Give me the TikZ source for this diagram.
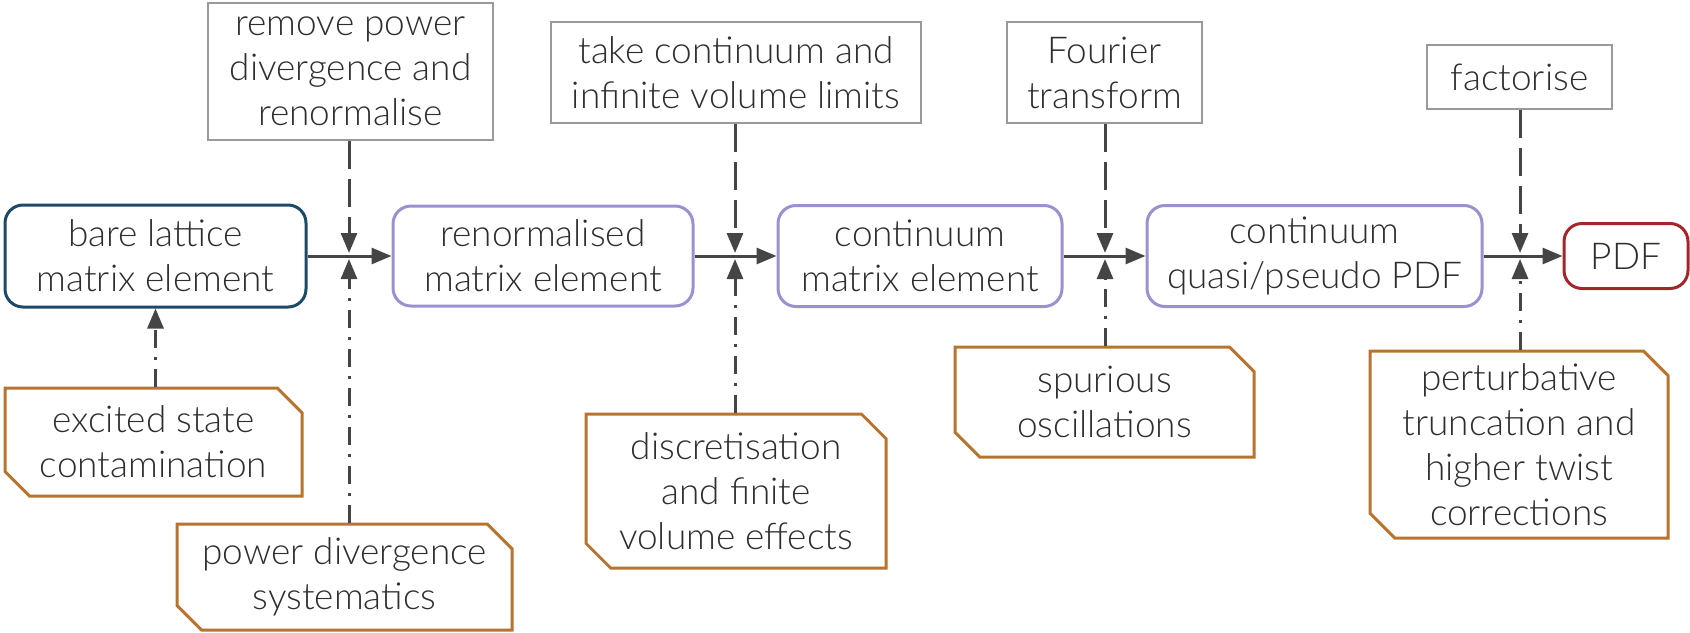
\documentclass[tikz,border=0pt]{standalone}
\usepackage{fontspec}
\setmainfont{Lato}[UprightFont=* Light]
\usetikzlibrary{arrows.meta,shapes.misc}

\definecolor{txt}{HTML}{2E2E2E}
\definecolor{linegray}{HTML}{454545}
\definecolor{actgray}{HTML}{9A9A9A}
\definecolor{bareblue}{HTML}{1E4A6A}
\definecolor{stagepurple}{HTML}{9D90CE}
\definecolor{pdfred}{HTML}{A3262B}
\definecolor{issorange}{HTML}{B8742F}

\tikzset{
  base/.style={inner sep=0pt, align=center, text=txt,
    font=\fontsize{18.5}{22.5}\selectfont, line width=1.5pt, fill=white},
  stage/.style={base, draw=stagepurple, rounded corners=9pt},
  action/.style={base, draw=actgray, line width=1.3pt},
  issue/.style={base, draw=issorange, chamfered rectangle,
    chamfered rectangle corners={north east,south west},
    chamfered rectangle xsep=9pt},
  flow/.style={line width=1.5pt, draw=linegray,
    -{Triangle[length=10pt,width=8pt]}},
  actflow/.style={flow, dash pattern=on 14pt off 5pt},
  sysflow/.style={flow, dash pattern=on 9pt off 4.5pt on 1.5pt off 4.5pt},
}

\begin{document}
\begin{tikzpicture}[x=0.5pt,y=-0.5pt]
\useasboundingbox (0,0) rectangle (1690,632);

% main chain of stages
\node[stage, draw=bareblue, minimum width=150.5pt, minimum height=51pt]
  (bare) at (155.5,256) {bare lattice\\matrix element};
\node[stage, minimum width=150pt, minimum height=50pt]
  (ren) at (543,256) {renormalised\\matrix element};
\node[stage, minimum width=142pt, minimum height=50.5pt]
  (cont) at (920,256) {continuum\\matrix element};
\node[stage, minimum width=167.5pt, minimum height=50.5pt]
  (quasi) at (1314.5,256) {continuum\\quasi/pseudo PDF};
\node[stage, draw=pdfred, minimum width=62pt, minimum height=32.5pt]
  (pdf) at (1626,256) {PDF};

% operations applied between stages
\node[action, minimum width=142.5pt, minimum height=68.5pt]
  (renorm) at (350.5,71.5) {remove power\\divergence and\\renormalise};
\node[action, minimum width=185pt, minimum height=50.5pt]
  (limits) at (736,72.5) {take continuum and\\infinite volume limits};
\node[action, minimum width=97.5pt, minimum height=50.5pt]
  (fourier) at (1104.5,72.5) {Fourier\\transform};
\node[action, minimum width=92.5pt, minimum height=32pt]
  (fact) at (1519.5,77) {factorise};

% systematic effects
\node[issue, minimum width=148.5pt, minimum height=54pt]
  (excited) at (153.5,442) {excited state\\contamination};
\node[issue, minimum width=167.5pt, minimum height=53pt]
  (powsys) at (344.5,577) {power divergence\\systematics};
\node[issue, minimum width=150pt, minimum height=77pt]
  (disc) at (736,491) {discretisation\\and finite\\volume effects};
\node[issue, minimum width=149.5pt, minimum height=55pt]
  (spur) at (1104.5,402) {spurious\\oscillations};
\node[issue, minimum width=149pt, minimum height=93.5pt]
  (pert) at (1519,444.5) {perturbative\\truncation and\\higher twist\\corrections};

% junction points on the main line
\coordinate (j1) at (349,256);
\coordinate (j2) at (735,256);
\coordinate (j3) at (1105,256);
\coordinate (j4) at (1520,256);

% main flow
\draw[flow] (bare.east) -- (ren.west);
\draw[flow] (ren.east) -- (cont.west);
\draw[flow] (cont.east) -- (quasi.west);
\draw[flow] (quasi.east) -- (pdf.west);

% operations feeding in from above
\draw[actflow] (renorm.south -| j1) -- ([yshift=1.5pt]j1);
\draw[actflow] (limits.south -| j2) -- ([yshift=1.5pt]j2);
\draw[actflow] (fourier.south -| j3) -- ([yshift=1.5pt]j3);
\draw[actflow] (fact.south -| j4) -- ([yshift=1.5pt]j4);

% systematics feeding in from below
\draw[sysflow] (excited.north -| bare.south) -- (bare.south);
\draw[sysflow] (powsys.north -| j1) -- ([yshift=-1.5pt]j1);
\draw[sysflow] (disc.north -| j2) -- ([yshift=-1.5pt]j2);
\draw[sysflow] (spur.north -| j3) -- ([yshift=-1.5pt]j3);
\draw[sysflow] (pert.north -| j4) -- ([yshift=-1.5pt]j4);
\end{tikzpicture}
\end{document}
